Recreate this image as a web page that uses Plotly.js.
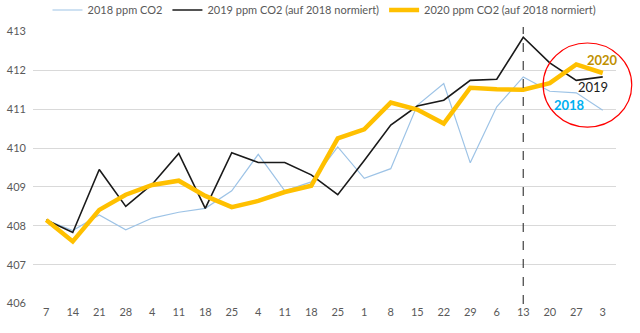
<!DOCTYPE html>
<html>
<head>
<meta charset="utf-8">
<script src="https://cdn.plot.ly/plotly-3.0.1.min.js"></script>
<style>html,body{margin:0;padding:0;background:#fff;}#chart{width:640px;height:333px;}</style>
</head>
<body>
<div id="chart"></div>
<script>
const tickLabels = ["7","14","21","28","4","11","18","25","4","11","18","25","1","8","15","22","29","6","13","20","27","3"];
const co2_2018 = [408.15,407.88,408.28,407.9,408.2,408.35,408.45,408.9,409.84,408.9,409.13,410.03,409.22,409.47,411.1,411.66,409.62,411.06,411.83,411.46,411.42,410.97];
const co2_2019 = [408.15,407.83,409.45,408.5,409.07,409.86,408.45,409.88,409.63,409.63,409.31,408.8,409.68,410.59,411.08,411.23,411.74,411.77,412.85,412.19,411.74,411.83];
const co2_2020 = [408.15,407.6,408.41,408.8,409.05,409.16,408.77,408.48,408.64,408.87,409.03,410.25,410.48,411.17,410.99,410.63,411.55,411.51,411.5,411.67,412.15,411.93];
const seriesNames = ["2018 ppm CO2","2019 ppm CO2 (auf 2018 normiert)","2020 ppm CO2 (auf 2018 normiert)"];
const markerIndex = 18;

const idx = tickLabels.map((_, i) => i);
const font = "Lato, 'Open Sans', sans-serif";

const traces = [
  {x: idx, y: co2_2018, name: seriesNames[0], mode: "lines", line: {color: "#9DC3E6", width: 1.2}},
  {x: idx, y: co2_2019, name: seriesNames[1], mode: "lines", line: {color: "#1a1a1a", width: 1.6}},
  {x: idx, y: co2_2020, name: seriesNames[2], mode: "lines", line: {color: "#FFC000", width: 4.5}}
];

const layout = {
  width: 640, height: 333,
  margin: {l: 33, r: 24, t: 31, b: 29, autoexpand: false},
  paper_bgcolor: "#fff", plot_bgcolor: "#fff",
  font: {family: font, size: 11, color: "#595959"},
  showlegend: true,
  legend: {orientation: "h", x: 0.5, xanchor: "center", y: 1.077, yref: "paper", yanchor: "middle", itemwidth: 30, font: {size: 11, color: "#595959"}, tracegroupgap: 0},
  xaxis: {
    range: [-0.5, 21.5], tickmode: "array", tickvals: idx, ticktext: tickLabels,
    showgrid: false, zeroline: false, showline: false, ticks: "", fixedrange: true
  },
  yaxis: {
    range: [405.99, 413.01], dtick: 1, tick0: 406, showgrid: true, gridcolor: "#D9D9D9", gridwidth: 1,
    zeroline: false, showline: false, ticks: "", ticklabelstandoff: 6
  },
  shapes: [
    {type: "line", xref: "x", yref: "paper", x0: markerIndex, x1: markerIndex, y0: 0, y1: 1.015,
     line: {color: "#404040", width: 1.2, dash: "dash"}},
    {type: "circle", xref: "paper", yref: "paper", x0: 0.875, x1: 1.027, y0: 0.648, y1: 0.956,
     line: {color: "#FF0000", width: 1.2}}
  ],
  annotations: [
    {xref: "paper", yref: "paper", x: 0.977, y: 0.892, xanchor: "center", yanchor: "middle", text: "<b>2020</b>", showarrow: false, font: {size: 13, color: "#C09000", family: font}},
    {xref: "paper", yref: "paper", x: 0.960, y: 0.795, xanchor: "center", yanchor: "middle", text: "2019", showarrow: false, font: {size: 13, color: "#1a1a1a", family: font}},
    {xref: "paper", yref: "paper", x: 0.920, y: 0.729, xanchor: "center", yanchor: "middle", text: "<b>2018</b>", showarrow: false, font: {size: 13, color: "#00B0F0", family: font}}
  ]
};

Plotly.newPlot("chart", traces, layout, {displayModeBar: false, staticPlot: true});
</script>
</body>
</html>
